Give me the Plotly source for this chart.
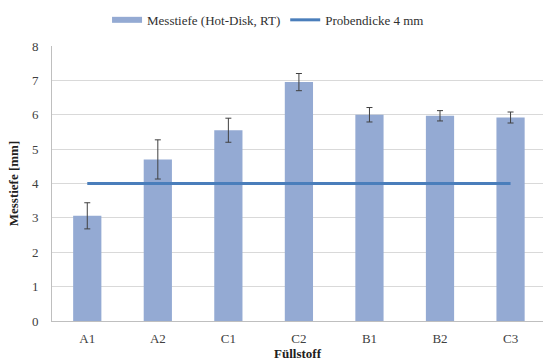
import plotly.graph_objects as go

# Data
categories = ["A1", "A2", "C1", "C2", "B1", "B2", "C3"]
messtiefe = [3.06, 4.70, 5.55, 6.95, 6.00, 5.97, 5.92]
messtiefe_err = [0.38, 0.57, 0.35, 0.25, 0.21, 0.15, 0.16]
probendicke = [4, 4, 4, 4, 4, 4, 4]

bar_color = "#94AAD3"
line_color = "#4A7EBB"
font_family = "Liberation Serif, Times New Roman, serif"

fig = go.Figure()

fig.add_trace(go.Bar(
    x=categories, y=messtiefe,
    width=0.4,
    marker=dict(color=bar_color, line=dict(width=0)),
    error_y=dict(type="data", array=messtiefe_err, visible=True,
                 color="#404040", thickness=1, width=3),
    showlegend=False,
))

# Legend entry for the bars (flat swatch)
fig.add_trace(go.Scatter(
    x=[None], y=[None], mode="lines",
    line=dict(color=bar_color, width=6),
    name="Messtiefe (Hot-Disk, RT)",
))

fig.add_trace(go.Scatter(
    x=categories, y=probendicke, mode="lines",
    line=dict(color=line_color, width=3),
    name="Probendicke 4 mm",
))

fig.update_layout(
    width=543, height=363,
    margin=dict(l=52, r=0, t=46, b=42),
    paper_bgcolor="white", plot_bgcolor="white",
    font=dict(family=font_family, size=13, color="#404040"),
    legend=dict(orientation="h", x=0.44, xanchor="center", y=1.095, yanchor="middle",
                font=dict(family=font_family, size=13, color="#303030"), itemwidth=30,
                bgcolor="rgba(0,0,0,0)"),
)

fig.update_xaxes(
    range=[-0.5, 6.46],
    showline=True, linecolor="#BFBFBF", linewidth=1,
    showgrid=False, ticks="", ticklabelstandoff=5,
    tickfont=dict(family=font_family, size=13, color="#404040"),
    title=dict(text="<b>Füllstoff</b>", font=dict(family=font_family, size=13, color="#202020"),
               standoff=2),
)
fig.update_yaxes(
    range=[0, 8], dtick=1,
    showline=True, linecolor="#BFBFBF", linewidth=1,
    showgrid=True, gridcolor="#D9D9D9", gridwidth=1,
    zeroline=False, ticks="", ticklabelstandoff=10,
    tickfont=dict(family=font_family, size=13, color="#404040"),
    title=dict(text="<b>Messtiefe [mm]</b>", font=dict(family=font_family, size=13, color="#202020"),
               standoff=10),
)

fig.write_html("out.html")
